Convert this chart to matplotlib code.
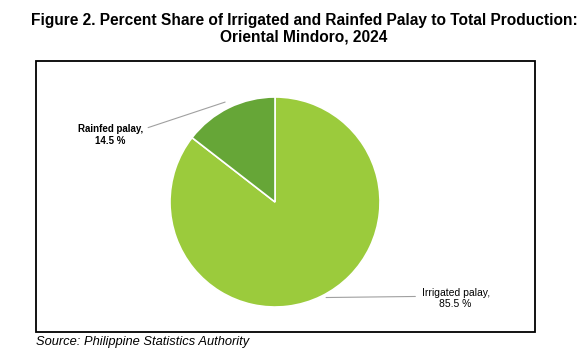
import matplotlib.pyplot as plt
import matplotlib.patches as mpatches

plt.rcParams.update({
    "font.family": "Liberation Sans",
})

W, H = 584, 353

categories = ["Irrigated palay", "Rainfed palay"]
shares = [85.5, 14.5]
colors = ["#9BCB3C", "#66A637"]

fig = plt.figure(figsize=(W / 100, H / 100), dpi=100)

# chart border
box = mpatches.Rectangle((36 / W, 1 - 332 / H), (535 - 36) / W, (332 - 61) / H,
                         transform=fig.transFigure, fill=False,
                         edgecolor="black", linewidth=1.3)
fig.patches.append(box)

# pie axes: centre (275, 202) px, radius 105 px
r = 105
ax = fig.add_axes([(275 - r) / W, 1 - (202 + r) / H, 2 * r / W, 2 * r / H])
ax.pie(shares, colors=colors, startangle=90, counterclock=False,
       wedgeprops={"edgecolor": "white", "linewidth": 1.2})
ax.set_xlim(-1, 1)
ax.set_ylim(-1, 1)
ax.set_aspect("equal")
ax.axis("off")

line_kw = dict(arrowstyle="-", color="#a0a0a0", lw=0.8)
ax.annotate(f"{categories[1]},\n{shares[1]} %", xy=(-0.45, 0.96), xytext=(-1.57, 0.64),
            ha="center", va="center", fontsize=7, fontweight="bold",
            arrowprops=dict(**line_kw, relpos=(1.0, 0.75)), annotation_clip=False)
ax.annotate(f"{categories[0]},\n{shares[0]} %", xy=(0.46, -0.91), xytext=(1.72, -0.92),
            ha="center", va="center", fontsize=7.5,
            arrowprops=dict(**line_kw, relpos=(-0.05, 0.6)), annotation_clip=False)

fig.text(304 / W, 1 - 29 / H,
         "Figure 2. Percent Share of Irrigated and Rainfed Palay to Total Production:\n"
         "Oriental Mindoro, 2024",
         ha="center", va="center", fontsize=11.2, fontweight="bold", linespacing=1.1)

fig.text(36 / W, 1 - 342 / H, "Source: Philippine Statistics Authority",
         ha="left", va="center", fontsize=9.3, style="italic")

fig.savefig("out.png", dpi=100)
